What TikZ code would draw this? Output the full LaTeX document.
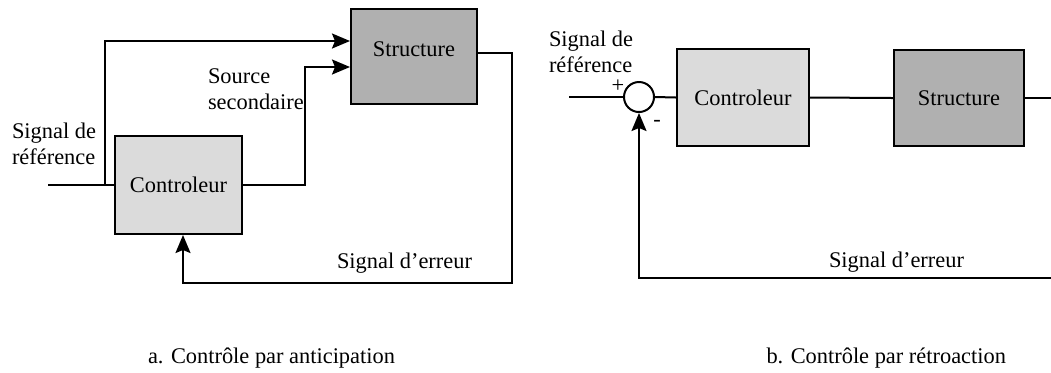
\documentclass[tikz,border=0pt]{standalone}
\usepackage{fontspec}
\setmainfont{Liberation Serif}
\usetikzlibrary{arrows.meta}

\begin{document}
\begin{tikzpicture}[x=0.5pt, y=-0.5pt, line width=1pt,
        every node/.style={font=\fontsize{11.2}{13}\selectfont, inner sep=0pt},
        ctrlbox/.style={draw, fill=black!14, minimum width=63.5pt, minimum height=49pt},
        structbox/.style={draw, fill=black!31, minimum width=64pt, minimum height=48pt},
        sumnode/.style={draw, circle, fill=white, minimum size=15pt},
        arr/.style={-{Stealth[length=9pt, width=7.5pt, inset=1.5pt]}}]
        \clip (0,0) rectangle (1051,372);

        % a. Feedforward
        \node[ctrlbox] (ctrlA) at (178.5,185) {Controleur};
        \node[structbox, minimum width=63pt, minimum height=47.5pt,
              label={[yshift=3.5pt]center:Structure}] (structA) at (414,56.5) {};
        \coordinate (inA) at (48,185);
        \coordinate (brA) at (105,185);
        \coordinate (kinkA) at (305,185);
        \coordinate (retA) at (512,283);
        \draw (inA) -- (ctrlA.west);
        \draw[arr] (brA) |- ([yshift=7.75pt]structA.west);
        \draw[arr] (ctrlA.east) -- (kinkA) |- ([yshift=-5.25pt]structA.west);
        \draw[arr] ([yshift=1.75pt]structA.east) -| (retA) -| ([xshift=2.25pt]ctrlA.south);
        \node[anchor=west, align=left] (refA) at (11,144) {Signal de\\référence};
        \node[anchor=west, align=left] (srcA) at (207,89) {Source\\secondaire};
        \node[anchor=west] (errA) at (336,263) {Signal d’erreur};
        \node[anchor=base west] (capA) at (147,363) {a. Contrôle par anticipation};

        % b. Feedback
        \node[sumnode] (sumB) at (639,97) {};
        \node[ctrlbox, minimum width=66pt, minimum height=48.5pt] (ctrlB) at (743,97.5) {Controleur};
        \node[structbox, minimum width=65pt] (structB) at (959,98) {Structure};
        \coordinate (inB) at (569,97);
        \coordinate (retB) at (1062,278);
        \draw (inB) -- (sumB.west);
        \draw (sumB.east) -- (ctrlB.west);
        \draw (ctrlB.east) -- (structB.west);
        \draw[arr] (structB.east) -| (retB) -| (sumB.south);
        \node[anchor=west, align=left] (refB) at (548,52) {Signal de\\référence};
        \node (plusB) at (618,86) {+};
        \node (minusB) at (657,123) {-};
        \node[anchor=west] (errB) at (828,262) {Signal d’erreur};
        \node[anchor=base east] (capB) at (1007,363) {b. Contrôle par rétroaction};
    \end{tikzpicture}
\end{document}
